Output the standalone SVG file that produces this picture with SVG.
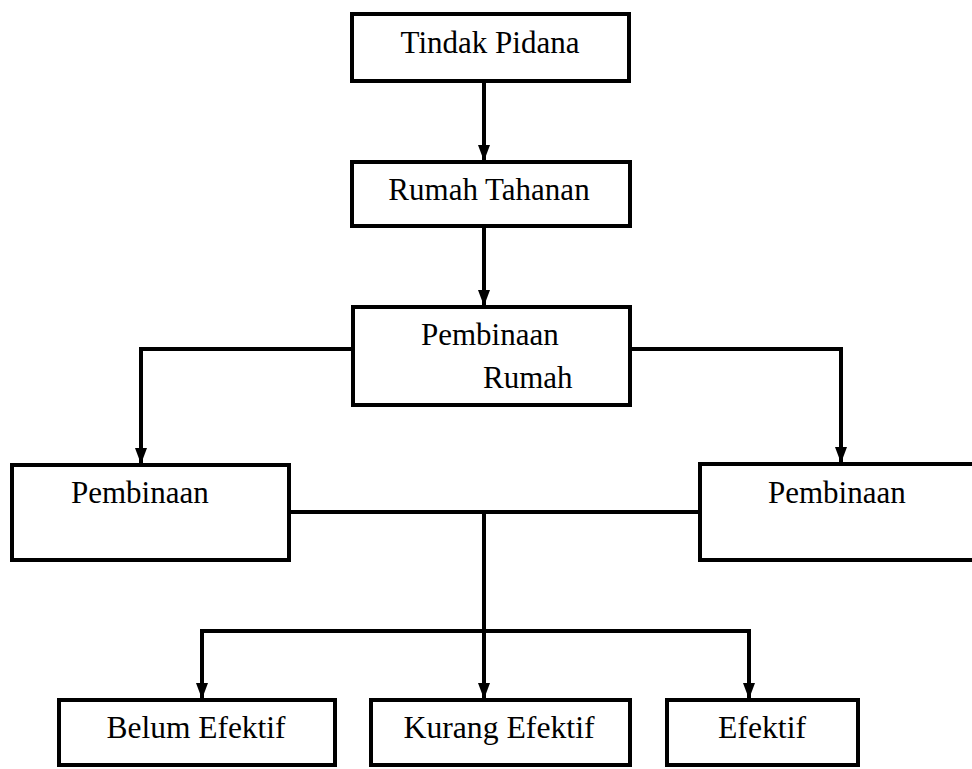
<svg xmlns="http://www.w3.org/2000/svg" width="972" height="769" viewBox="0 0 972 769">
<defs>
<style>
.box{fill:#fff;stroke:#000;stroke-width:4}
.t{font-family:"Liberation Serif","Times New Roman",serif;font-size:31px;fill:#000}
.c{fill:none;stroke:#000;stroke-width:4}
</style>
<marker id="ah" viewBox="0 0 16 12" refX="16" refY="6" markerWidth="16" markerHeight="12" markerUnits="userSpaceOnUse" orient="auto">
<path d="M0,0 L16,6 L0,12 z" fill="#000"/>
</marker>
</defs>
<rect width="972" height="769" fill="#fff"/>
<g id="connectors">
<path class="c" d="M484,81 V161" marker-end="url(#ah)"/>
<path class="c" d="M484,226 V306" marker-end="url(#ah)"/>
<path class="c" d="M353,349 H141 V464" marker-end="url(#ah)"/>
<path class="c" d="M630,349 H841 V463" marker-end="url(#ah)"/>
<path class="c" d="M289,512 H700"/>
<path class="c" d="M484,512 V699" marker-end="url(#ah)"/>
<path class="c" d="M202,699 V631 H749 V699" marker-end="url(#ah)"/>
<path class="c" d="M202,633 V699" marker-end="url(#ah)"/>
</g>
<g id="tindak-pidana">
<rect class="box" x="352" y="14" width="277" height="67"/>
<text class="t" x="490" y="53" text-anchor="middle">Tindak Pidana</text>
</g>
<g id="rumah-tahanan">
<rect class="box" x="352" y="162" width="278" height="64"/>
<text class="t" x="489" y="200" text-anchor="middle">Rumah Tahanan</text>
</g>
<g id="pembinaan-rumah">
<rect class="box" x="353" y="307" width="277" height="98"/>
<text class="t" x="421" y="345">Pembinaan</text>
<text class="t" x="483" y="388">Rumah</text>
</g>
<g id="pembinaan-left">
<rect class="box" x="12" y="465" width="277" height="95"/>
<text class="t" x="71" y="503">Pembinaan</text>
</g>
<g id="pembinaan-right">
<rect class="box" x="700" y="464" width="300" height="96"/>
<text class="t" x="768" y="503">Pembinaan</text>
</g>
<g id="belum-efektif">
<rect class="box" x="59" y="700" width="276" height="65"/>
<text class="t" x="196" y="738" text-anchor="middle" textLength="179" lengthAdjust="spacingAndGlyphs">Belum Efektif</text>
</g>
<g id="kurang-efektif">
<rect class="box" x="371" y="700" width="259" height="65"/>
<text class="t" x="499" y="738" text-anchor="middle" textLength="191" lengthAdjust="spacingAndGlyphs">Kurang Efektif</text>
</g>
<g id="efektif">
<rect class="box" x="667" y="700" width="191" height="65"/>
<text class="t" x="762" y="738" text-anchor="middle" textLength="88" lengthAdjust="spacingAndGlyphs">Efektif</text>
</g>
</svg>
